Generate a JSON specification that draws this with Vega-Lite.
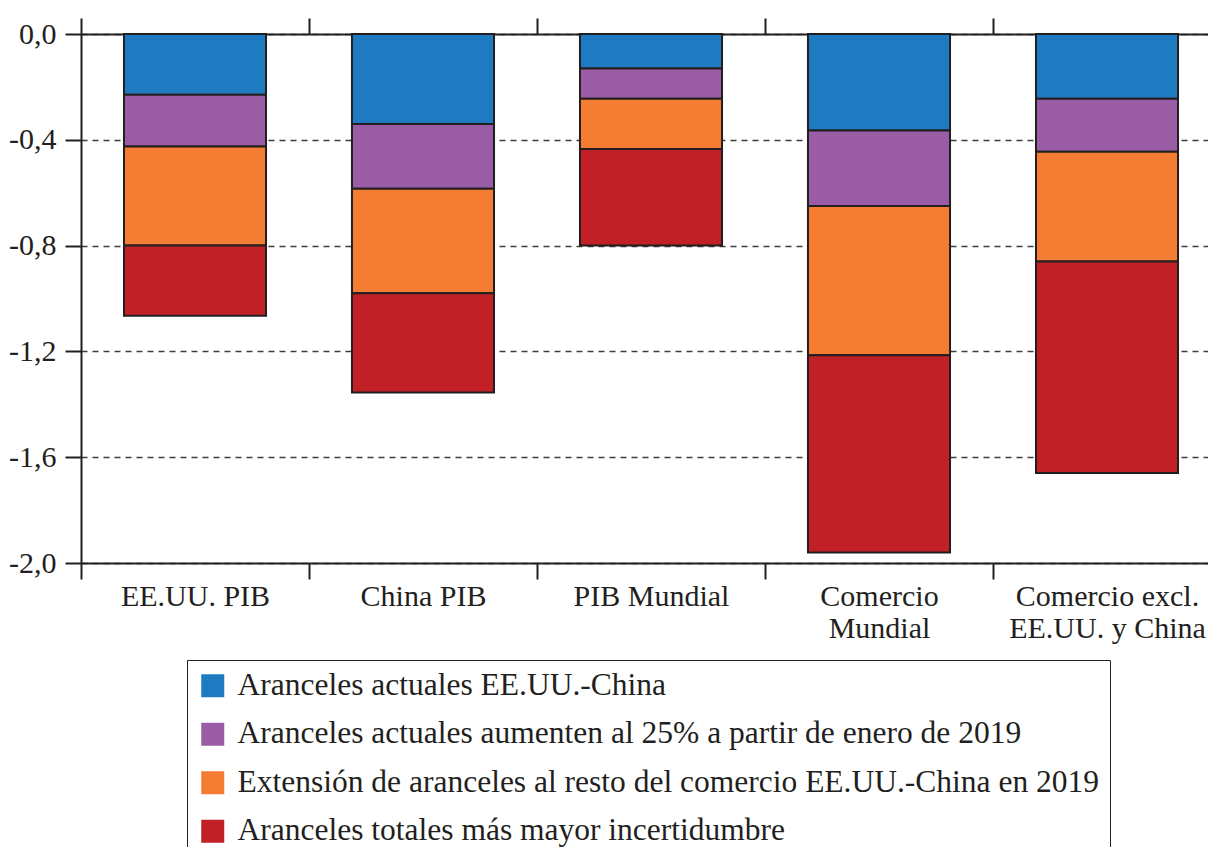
{
  "$schema": "https://vega.github.io/schema/vega-lite/v6.json",
  "autosize": {"type": "none"},
  "width": 1127,
  "height": 529,
  "padding": {"left": 81, "top": 34, "right": 0, "bottom": 284},
  "background": "white",
  "config": {
    "font": "Liberation Serif",
    "view": {"stroke": null},
    "axis": {"labelColor": "#231f20", "labelFont": "Liberation Serif", "domainColor": "#231f20", "tickColor": "#231f20"},
    "legend": {"labelFont": "Liberation Serif"}
  },
  "data": {
    "values": [
      {"cat": "EE.UU. PIB", "series": "Aranceles actuales EE.UU.-China", "ord": 1, "value": -0.23},
      {"cat": "EE.UU. PIB", "series": "Aranceles actuales aumenten al 25% a partir de enero de 2019", "ord": 2, "value": -0.195},
      {"cat": "EE.UU. PIB", "series": "Extensión de aranceles al resto del comercio EE.UU.-China en 2019", "ord": 3, "value": -0.375},
      {"cat": "EE.UU. PIB", "series": "Aranceles totales más mayor incertidumbre", "ord": 4, "value": -0.265},
      {"cat": "China PIB", "series": "Aranceles actuales EE.UU.-China", "ord": 1, "value": -0.34},
      {"cat": "China PIB", "series": "Aranceles actuales aumenten al 25% a partir de enero de 2019", "ord": 2, "value": -0.245},
      {"cat": "China PIB", "series": "Extensión de aranceles al resto del comercio EE.UU.-China en 2019", "ord": 3, "value": -0.395},
      {"cat": "China PIB", "series": "Aranceles totales más mayor incertidumbre", "ord": 4, "value": -0.375},
      {"cat": "PIB Mundial", "series": "Aranceles actuales EE.UU.-China", "ord": 1, "value": -0.13},
      {"cat": "PIB Mundial", "series": "Aranceles actuales aumenten al 25% a partir de enero de 2019", "ord": 2, "value": -0.115},
      {"cat": "PIB Mundial", "series": "Extensión de aranceles al resto del comercio EE.UU.-China en 2019", "ord": 3, "value": -0.19},
      {"cat": "PIB Mundial", "series": "Aranceles totales más mayor incertidumbre", "ord": 4, "value": -0.365},
      {"cat": "Comercio Mundial", "series": "Aranceles actuales EE.UU.-China", "ord": 1, "value": -0.365},
      {"cat": "Comercio Mundial", "series": "Aranceles actuales aumenten al 25% a partir de enero de 2019", "ord": 2, "value": -0.285},
      {"cat": "Comercio Mundial", "series": "Extensión de aranceles al resto del comercio EE.UU.-China en 2019", "ord": 3, "value": -0.565},
      {"cat": "Comercio Mundial", "series": "Aranceles totales más mayor incertidumbre", "ord": 4, "value": -0.745},
      {"cat": "Comercio excl. EE.UU. y China", "series": "Aranceles actuales EE.UU.-China", "ord": 1, "value": -0.245},
      {"cat": "Comercio excl. EE.UU. y China", "series": "Aranceles actuales aumenten al 25% a partir de enero de 2019", "ord": 2, "value": -0.2},
      {"cat": "Comercio excl. EE.UU. y China", "series": "Extensión de aranceles al resto del comercio EE.UU.-China en 2019", "ord": 3, "value": -0.415},
      {"cat": "Comercio excl. EE.UU. y China", "series": "Aranceles totales más mayor incertidumbre", "ord": 4, "value": -0.8}
    ]
  },
  "resolve": {"axis": {"x": "independent"}},
  "layer": [
    {
      "mark": {"type": "bar", "stroke": "#231f20", "strokeWidth": 2, "width": {"band": 0.623}},
      "encoding": {
        "x": {
          "field": "cat", "type": "nominal",
          "sort": ["EE.UU. PIB", "China PIB", "PIB Mundial", "Comercio Mundial", "Comercio excl. EE.UU. y China"],
          "scale": {"range": [0, 1140], "paddingInner": 0, "paddingOuter": 0},
          "axis": {
            "orient": "bottom", "title": null, "labelAngle": 0, "tickBand": "extent",
            "tickSize": 16, "tickWidth": 2, "domainWidth": 2, "labelFontSize": 30,
            "labelPadding": 2, "labelLineHeight": 32.5, "labelLimit": 400,
            "labelExpr": "datum.label == 'Comercio Mundial' ? ['Comercio', 'Mundial'] : datum.label == 'Comercio excl. EE.UU. y China' ? ['Comercio excl.', 'EE.UU. y China'] : datum.label"
          }
        },
        "y": {
          "field": "value", "type": "quantitative", "stack": "zero",
          "scale": {"domain": [-2, 0], "nice": false},
          "axis": {
            "title": null, "values": [0, -0.4, -0.8, -1.2, -1.6, -2.0],
            "labelExpr": "(datum.value < 0 ? '-' : '') + replace(format(abs(datum.value), '.1f'), '.', ',')",
            "tickSize": 16, "tickWidth": 2, "domainWidth": 2, "labelFontSize": 30, "labelPadding": 9,
            "grid": true, "gridDash": [6, 5], "gridColor": "#3d3d3d", "gridWidth": 1.5, "gridOpacity": 1
          }
        },
        "color": {
          "field": "series", "type": "nominal",
          "scale": {
            "domain": ["Aranceles actuales EE.UU.-China", "Aranceles actuales aumenten al 25% a partir de enero de 2019", "Extensión de aranceles al resto del comercio EE.UU.-China en 2019", "Aranceles totales más mayor incertidumbre"],
            "range": ["#1f7bc1", "#9a5ca5", "#f47c33", "#c02026"]
          },
          "legend": {
            "title": null, "orient": "none", "legendX": 106, "legendY": 626,
            "symbolType": "square", "symbolSize": 529, "symbolStrokeWidth": 0,
            "labelFontSize": 31.5, "labelColor": "#231f20", "labelLimit": 1000, "labelOffset": 9,
            "rowPadding": 15.5, "padding": 10, "strokeColor": "#231f20", "fillColor": "white"
          }
        },
        "order": {"field": "ord", "type": "quantitative"}
      }
    },
    {
      "mark": {"type": "bar", "opacity": 0},
      "encoding": {
        "x": {
          "field": "cat", "type": "nominal",
          "sort": ["EE.UU. PIB", "China PIB", "PIB Mundial", "Comercio Mundial", "Comercio excl. EE.UU. y China"],
          "axis": {
            "orient": "top", "title": null, "labels": false, "tickBand": "extent",
            "tickSize": 16, "tickWidth": 2, "domainWidth": 2
          }
        }
      }
    }
  ]
}
